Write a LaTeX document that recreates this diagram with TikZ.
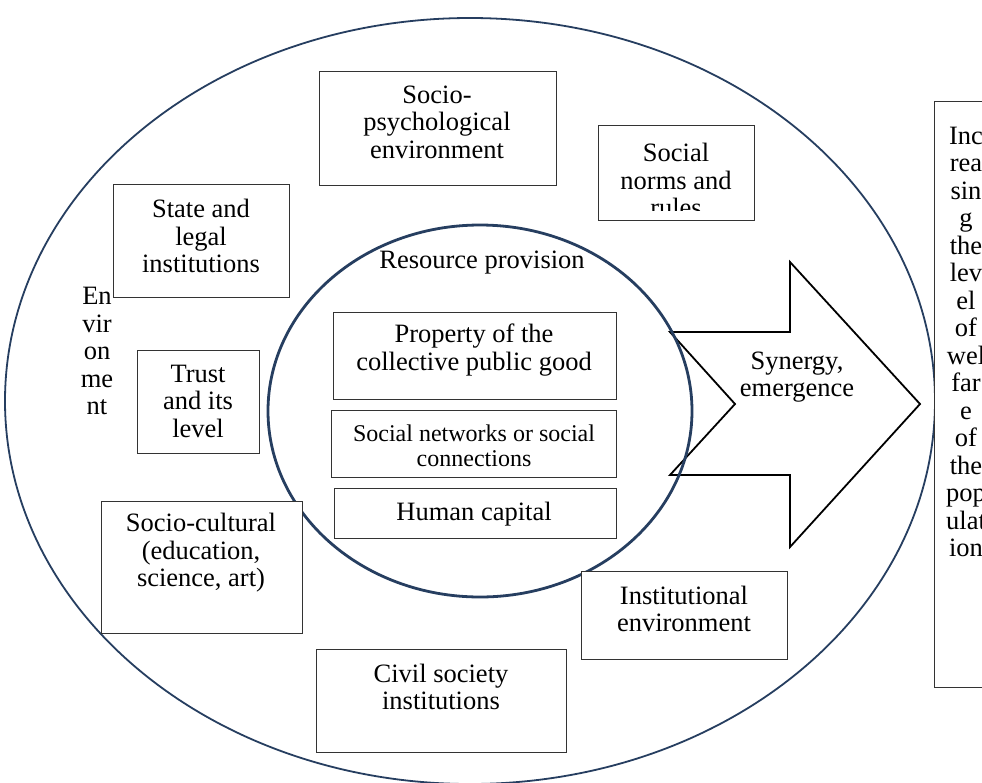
\documentclass[tikz,border=0pt]{standalone}
\usepackage{fontspec}
\setmainfont{Liberation Serif}
\definecolor{navy}{RGB}{38,62,96}
\begin{document}
\begin{tikzpicture}[x=1pt,y=-1pt,
  box/.style={draw=black!80,line width=1.2pt,fill=white,inner sep=0pt,anchor=north west},
  txt/.style={font=\fontsize{26.5}{27.5}\selectfont,align=center,inner sep=0pt},
  smalltxt/.style={font=\fontsize{24}{25}\selectfont,align=center,inner sep=0pt}]
\useasboundingbox (0,0) rectangle (982,782);
\clip (0,0) rectangle (982,782);
\fill[white] (0,0) rectangle (982,782);
% outer ellipse
\draw[navy,line width=1.8pt] (470,401) ellipse [x radius=465, y radius=383];
% arrow
\draw[black,line width=1.8pt,fill=white,line join=miter]
  (670,332) coordinate (a1) -- (790,332) coordinate (a2) -- (790,262) coordinate (a3)
  -- (920,404) coordinate (a4) -- (790,547) coordinate (a5) -- (790,475) coordinate (a6)
  -- (670,475) coordinate (a7) -- (735,404) coordinate (a8) -- cycle;
\node[txt] (syn) at (797,377) {Synergy,\\emergence};
% inner ellipse
\draw[navy,line width=2.8pt] (480,411) ellipse [x radius=212, y radius=186];
\node[txt] (res) at (482,263) {Resource provision};
% inner boxes
\node[box,minimum width=283pt,minimum height=87pt] (prop) at (333,312) {};
\node[txt] (tprop) at (474,350) {Property of the\\collective public good};
\node[box,minimum width=285pt,minimum height=67pt] (net) at (331,410) {};
\node[smalltxt] (tnet) at (474,446) {Social networks or social\\connections};
\node[box,minimum width=282pt,minimum height=50pt] (hum) at (334,488) {};
\node[txt] (thum) at (474,514) {Human capital};
% outer boxes
\node[box,minimum width=237pt,minimum height=114pt] (psy) at (319,71) {};
\node[txt] (tpsy) at (437,122) {Socio-\\psychological\\environment};
\node[box,minimum width=156pt,minimum height=95pt] (norm) at (598,125) {};
\begin{scope}
\clip (599,126) rectangle (753,210);
\node[txt] (tnorm) at (676,180) {Social\\norms and\\rules};
\end{scope}
\node[box,minimum width=176pt,minimum height=113pt] (state) at (113,184) {};
\node[txt] (tstate) at (201,236) {State and\\legal\\institutions};
\node[box,minimum width=122pt,minimum height=103pt] (trust) at (137,350) {};
\node[txt] (ttrust) at (198,401) {Trust\\and its\\level};
\node[box,minimum width=201pt,minimum height=132pt] (cult) at (101,501) {};
\node[txt] (tcult) at (201,553) {Socio-cultural\\(education,\\science, art)};
\node[box,minimum width=206pt,minimum height=88pt] (inst) at (581,571) {};
\node[txt] (tinst) at (684,609) {Institutional\\environment};
\node[box,minimum width=250pt,minimum height=103pt] (civ) at (316,649) {};
\node[txt] (tciv) at (441,687) {Civil society\\institutions};
% environment label
\node[txt] (env) at (97,351) {En\\vir\\on\\me\\nt};
% right box
\node[box,minimum width=80pt,minimum height=586pt] (wel) at (934,101) {};
\node[txt] (twel) at (966,342) {Inc\\rea\\sin\\g\\the\\lev\\el\\of\\wel\\far\\e\\of\\the\\pop\\ulat\\ion};
\end{tikzpicture}
\end{document}
